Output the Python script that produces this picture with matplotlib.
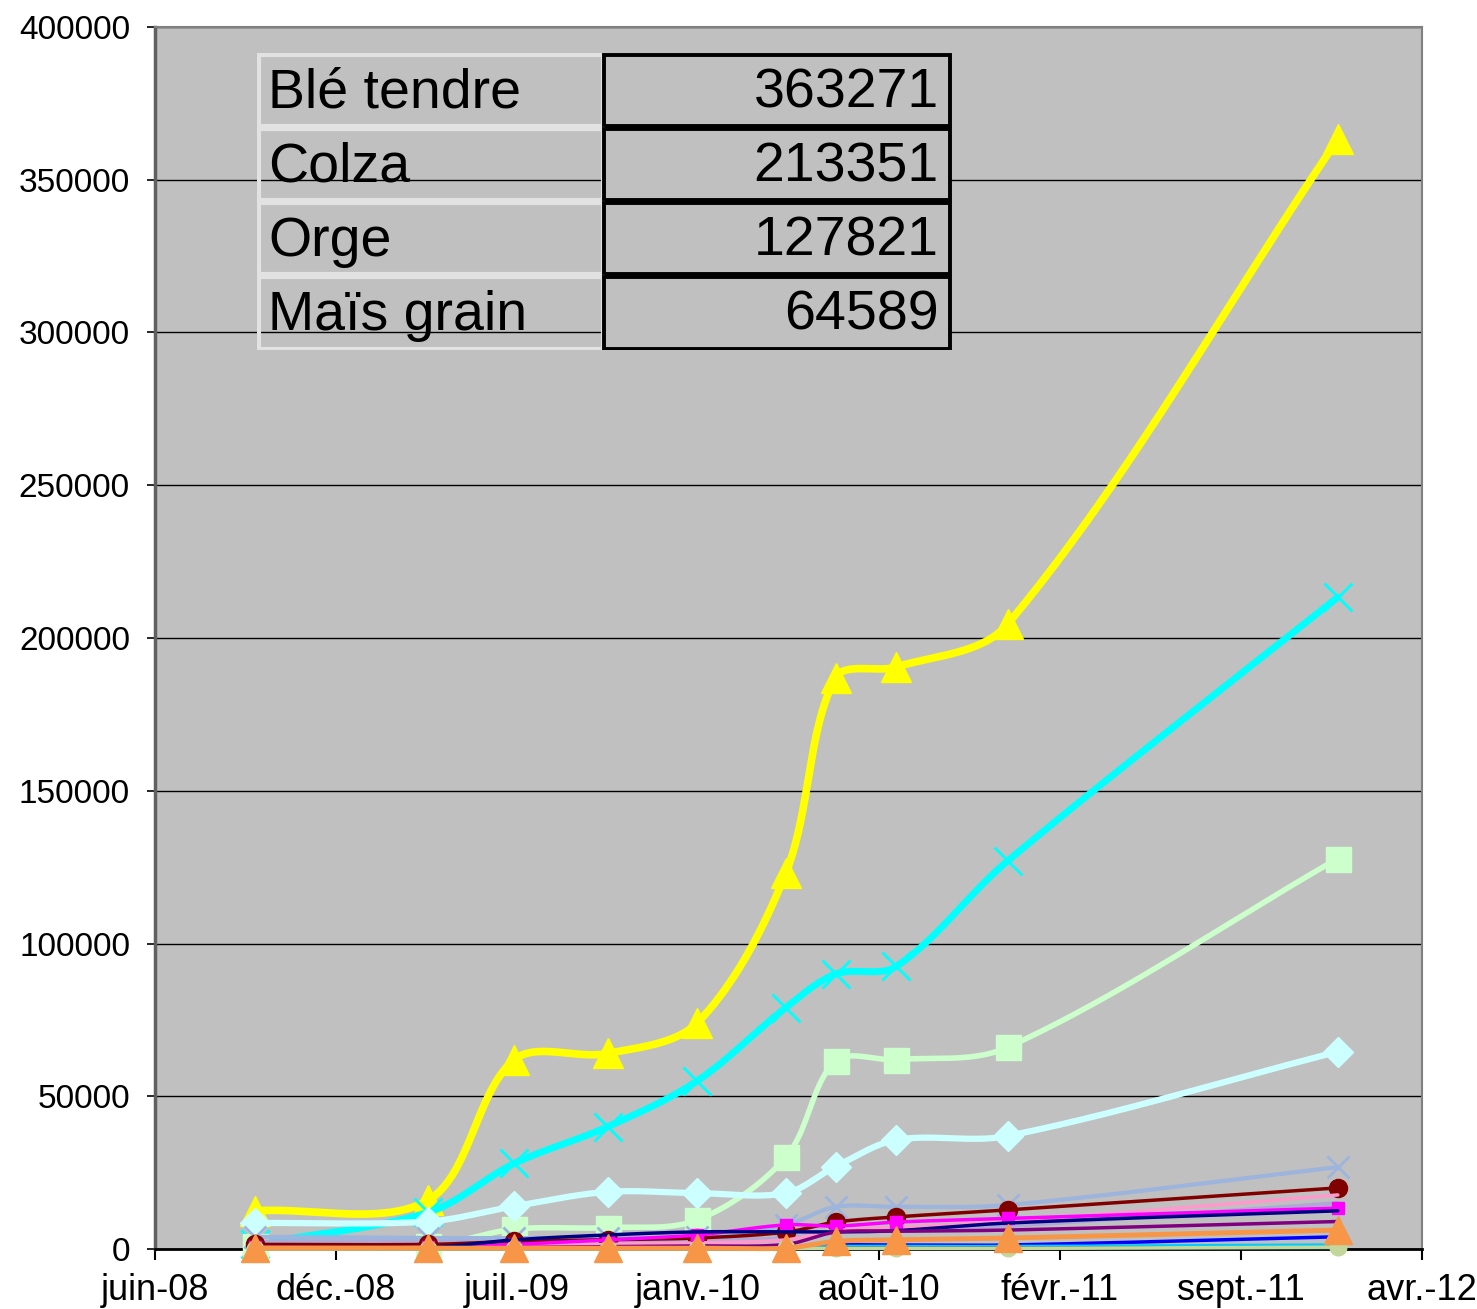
import numpy as np
import pandas as pd
import matplotlib
matplotlib.use("Agg")
import matplotlib.pyplot as plt
import matplotlib.dates as mdates
from matplotlib.patches import Rectangle

# dates of the surveys
dates = ["2008-09-20", "2009-03-30", "2009-07-03", "2009-10-14", "2010-01-21",
         "2010-04-29", "2010-06-23", "2010-08-29", "2010-12-30", "2011-12-30"]

ble_tendre = [12500, 16000, 62000, 64000, 74000, 123000, 187000, 190500, 204500, 363271]
colza = [1600, 12000, 28000, 40000, 55000, 79000, 90000, 92500, 127000, 213351]
orge = [1000, 1000, 6500, 7000, 9500, 30000, 61500, 62000, 66000, 127821]
mais_grain = [8500, 9000, 14000, 18700, 18300, 18300, 27000, 35700, 37000, 64589]

# smaller crops
s_bleu_gris = [4000, 3600, 3600, 3600, 4000, 7900, 13800, 13800, 14400, 26800]
s_rouge = [1500, 1500, 2500, 3000, 3600, 5500, 8800, 10500, 12800, 20000]
s_rose = [500, 500, 1000, 1500, 2000, 3000, 6000, 7000, 9000, 17700]
s_lavande = [2500, 2500, 2500, 2800, 3000, 3500, 5500, 6000, 7500, 15000]
s_magenta = [500, 500, 1500, 3000, 4600, 7900, 7500, 8800, 10000, 13400]
s_marine = [300, 500, 3000, 4600, 5600, 5600, 5600, 6000, 8500, 12500]
s_violet = [200, 300, 500, 800, 1000, 1500, 5500, 5800, 6200, 9000]
s_bleu = [0, 0, 0, 0, 0, 300, 1300, 1300, 1300, 4000]
s_ciel = [0, 0, 0, 0, 0, 200, 800, 800, 800, 1300]
s_sarcelle = [0, 0, 0, 0, 0, 100, 300, 300, 300, 400]
s_olive = [0, 0, 0, 0, 0, 200, 200, 200, 200, 600]
s_orange = [300, 300, 300, 300, 300, 300, 2500, 3000, 3600, 6200]

table_names = ["Blé tendre", "Colza", "Orge", "Maïs grain"]
table_values = ["363271", "213351", "127821", "64589"]

x_labels = ["juin-08", "déc.-08", "juil.-09", "janv.-10", "août-10",
            "févr.-11", "sept.-11", "avr.-12"]
y_ticks = [0, 50000, 100000, 150000, 200000, 250000, 300000, 350000, 400000]

x = mdates.date2num(pd.to_datetime(dates))

# rough screen scale (px per day, px per unit) so the smoothing looks like excel
SX = 1267 / 1400
SY = 1222 / 400000


def smooth(xs, ys, n=40):
    # bezier smoothing, tangents weighted by chord length in screen space
    P = np.column_stack([np.asarray(xs, float) * SX, np.asarray(ys, float) * SY])
    m = len(P)
    out = []
    for i in range(m - 1):
        p1, p2 = P[i], P[i + 1]
        p0 = P[max(i - 1, 0)]
        p3 = P[min(i + 2, m - 1)]
        d01 = np.hypot(*(p1 - p0))
        d12 = np.hypot(*(p2 - p1))
        d23 = np.hypot(*(p3 - p2))
        c1 = p1 + (p2 - p0) * (d12 / (d01 + d12) / 3 if d01 + d12 > 0 else 0)
        c2 = p2 - (p3 - p1) * (d12 / (d12 + d23) / 3 if d12 + d23 > 0 else 0)
        t = np.linspace(0, 1, n)[:, None]
        pts = (1 - t) ** 3 * p1 + 3 * (1 - t) ** 2 * t * c1 + 3 * (1 - t) * t ** 2 * c2 + t ** 3 * p2
        out.append(pts)
    out = np.vstack(out)
    return out[:, 0] / SX, out[:, 1] / SY


fig = plt.figure(figsize=(14.77, 13.09), dpi=100)
ax = fig.add_axes([155 / 1477, 1 - 1249 / 1309, 1267 / 1477, 1222 / 1309])
ax.set_facecolor("#c0c0c0")

# (values, color, linewidth, marker, markersize)
series = [
    (ble_tendre, "#ffff00", 5.5, "^", 22),
    (colza, "#00ffff", 5, "x", 20),
    (orge, "#ccffcc", 4, "s", 18),
    (mais_grain, "#ccffff", 4.5, "D", 15),
    (s_lavande, "#b0a8d4", 3, None, 0),
    (s_bleu_gris, "#9db4dc", 3, "x", 16),
    (s_rouge, "#800000", 2.5, "o", 13),
    (s_rose, "#ff99cc", 2.5, None, 0),
    (s_magenta, "#ff00ff", 2.5, "s", 9),
    (s_marine, "#000080", 2.5, None, 0),
    (s_violet, "#800080", 2.5, None, 0),
    (s_bleu, "#0000ff", 2.5, None, 0),
    (s_ciel, "#00ccff", 2.5, None, 0),
    (s_sarcelle, "#336666", 2.5, None, 0),
    (s_olive, "#c3d69b", 2.5, "o", 12),
    (s_orange, "#f79646", 3.5, "^", 20),
]

for k, (vals, col, lw, mk, ms) in enumerate(series):
    sx, sy = smooth(x, vals)
    ax.plot(sx, sy, color=col, linewidth=lw, solid_capstyle="round", zorder=3 + k * 0.1, clip_on=False)
    if mk:
        mew = 2 if mk == "x" else 1
        ax.plot(x, vals, linestyle="none", marker=mk, markersize=ms, color=col,
                markeredgecolor=col, markeredgewidth=mew, zorder=3.05 + k * 0.1, clip_on=False)

start = mdates.date2num(pd.Timestamp("2008-06-01"))
ax.set_xlim(start, start + 1400)
ax.set_ylim(0, 400000)
ax.set_xticks([start + 200 * i for i in range(8)])
ax.set_xticklabels(x_labels, family="Liberation Sans", fontsize=26)
ax.set_yticks(y_ticks)
ax.set_yticklabels([str(v) for v in y_ticks], family="Liberation Sans", fontsize=24)
ax.grid(axis="y", color="black", linewidth=1)
ax.set_axisbelow(True)
ax.tick_params(axis="x", direction="out", length=8, width=1.5, pad=9)
ax.tick_params(axis="y", direction="out", length=6, width=1.2, pad=12)

ax.spines["left"].set_color("#606060")
ax.spines["left"].set_linewidth(2.5)
ax.spines["bottom"].set_color("black")
ax.spines["bottom"].set_linewidth(2)
ax.spines["bottom"].set_zorder(2.5)
for s in ["top", "right"]:
    ax.spines[s].set_color("#808080")
    ax.spines[s].set_linewidth(1.5)

# data table in the top left corner
tab = fig.add_axes([257 / 1477, 1 - 350 / 1309, 695 / 1477, 297 / 1309])
tab.set_xlim(0, 695)
tab.set_ylim(297, 0)
tab.axis("off")
row_h = 297 / 4
for i, (name, val) in enumerate(zip(table_names, table_values)):
    y0 = i * row_h
    tab.add_patch(Rectangle((1.5, y0 + 1.5), 344, row_h - 3, fill=False,
                            edgecolor="#e2e2e2", linewidth=3))
    tab.add_patch(Rectangle((347, y0 + 1.5), 346, row_h - 3, facecolor="#c0c0c0",
                            edgecolor="black", linewidth=2.8))
    tab.text(11, y0 + row_h / 2 + 3, name, fontsize=40, family="Liberation Sans",
             va="center", ha="left")
    tab.text(682, y0 + row_h / 2 + 3, val, fontsize=40, family="Liberation Sans",
             va="center", ha="right")

fig.savefig("out.png", dpi=100)
